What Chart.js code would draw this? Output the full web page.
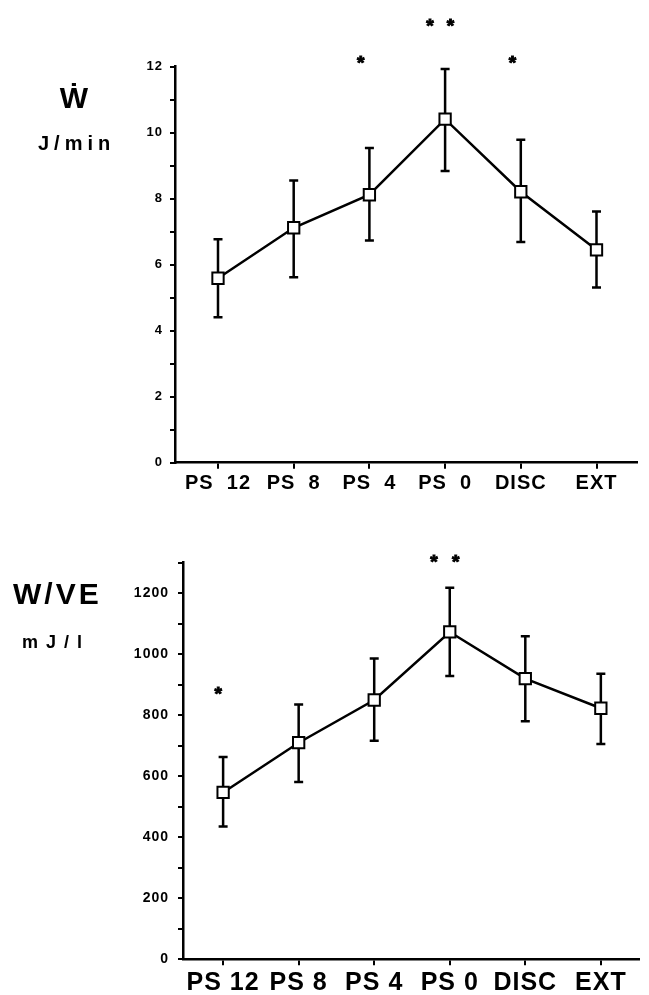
<!DOCTYPE html>
<html>
<head>
<meta charset="utf-8">
<script src="https://cdn.jsdelivr.net/npm/chart.js@4"></script>
<style>
    html, body { margin: 0; padding: 0; background: #fff; }
    #page { position: relative; width: 649px; height: 995px; overflow: hidden;
            font-family: "Liberation Sans", Arial, sans-serif; font-weight: bold; color: #000; }
    .box { position: absolute; left: 0; width: 649px; }
    .lbl { position: absolute; line-height: 1; white-space: nowrap; }
</style>
</head>
<body>
<div id="page">
    <div class="box" style="top:0;height:500px"><canvas id="workChart"></canvas></div>
    <div class="box" style="top:500px;height:495px"><canvas id="veChart"></canvas></div>
    <div class="lbl" style="left:44px;width:60px;text-align:center;top:83px;font-size:30px">Ẇ</div>
    <div class="lbl" style="left:38px;top:133px;font-size:20px;letter-spacing:5px">J/min</div>
    <div class="lbl" style="left:13px;top:579px;font-size:30px;letter-spacing:3px">W/VE</div>
    <div class="lbl" style="left:22px;top:633px;font-size:18px;letter-spacing:8px">mJ/l</div>
</div>
<script>
// top panel: work rate (J/min)
const workLabels = ["PS  12", "PS  8", "PS  4", "PS  0", "DISC", "EXT"];
const workMean = [5.59, 7.12, 8.12, 10.41, 8.21, 6.45];
const workHigh = [6.77, 8.55, 9.54, 11.93, 9.79, 7.61];
const workLow = [4.41, 5.62, 6.73, 8.84, 6.69, 5.31];
const workTicks = [0, 2, 4, 6, 8, 10, 12];
const workStarX = [1.885, 2.80, 3.07, 3.89];
const workStarY = [12.25, 13.38, 13.38, 12.25];

// bottom panel: work per litre ventilation (mJ/l)
const veLabels = ["PS 12", "PS 8", "PS 4", "PS 0", "DISC", "EXT"];
const veMean = [547, 710, 850, 1073, 920, 823];
const veHigh = [663, 835, 986, 1218, 1059, 936];
const veLow = [435, 581, 716, 929, 780, 706];
const veTicks = [0, 200, 400, 600, 800, 1000, 1200];
const veStarX = [-0.065, 2.79, 3.08];
const veStarY = [885, 1318, 1318];

const FONT = "'Liberation Sans', Arial, sans-serif";

const spacingPlugin = {
    id: "spacing",
    beforeDraw(chart, args, opts) {
        chart.ctx.letterSpacing = opts.px || "0px";
    }
};

const errorBarPlugin = {
    id: "errorBars",
    beforeDatasetsDraw(chart, args, opts) {
        const ctx = chart.ctx, xs = chart.scales.x, ys = chart.scales.y;
        ctx.save();
        ctx.strokeStyle = "#000";
        ctx.lineWidth = 2.5;
        opts.low.forEach((lo, i) => {
            const x = xs.getPixelForValue(i);
            const yLo = ys.getPixelForValue(lo);
            const yHi = ys.getPixelForValue(opts.high[i]);
            ctx.beginPath();
            ctx.moveTo(x, yLo); ctx.lineTo(x, yHi);
            ctx.moveTo(x - 4.5, yLo); ctx.lineTo(x + 4.5, yLo);
            ctx.moveTo(x - 4.5, yHi); ctx.lineTo(x + 4.5, yHi);
            ctx.stroke();
        });
        ctx.restore();
    }
};

const starPlugin = {
    id: "stars",
    afterDraw(chart, args, opts) {
        const ctx = chart.ctx, xs = chart.scales.x, ys = chart.scales.y;
        ctx.save();
        ctx.fillStyle = "#000";
        ctx.strokeStyle = "#000";
        ctx.lineWidth = 1;
        ctx.letterSpacing = "0px";
        ctx.font = "bold 19px " + FONT;
        ctx.textAlign = "center";
        ctx.textBaseline = "alphabetic";
        opts.x.forEach((sx, i) => {
            const px = xs.getPixelForValue(sx);
            const py = ys.getPixelForValue(opts.y[i]) + 11;
            ctx.fillText("*", px, py);
            ctx.strokeText("*", px, py);
        });
        ctx.restore();
    }
};

function makeChart(canvasId, o) {
    const ctx = document.getElementById(canvasId).getContext("2d");
    return new Chart(ctx, {
        type: "line",
        data: {
            datasets: [{
                data: o.mean.map((v, i) => ({ x: i, y: v })),
                borderColor: "#000",
                borderWidth: 2.5,
                tension: 0,
                pointStyle: "rect",
                pointRadius: 8,
                pointBorderWidth: 2,
                pointBackgroundColor: "#fff",
                pointBorderColor: "#000"
            }]
        },
        options: {
            responsive: true,
            maintainAspectRatio: false,
            animation: false,
            layout: { padding: o.padding },
            plugins: {
                legend: { display: false },
                tooltip: { enabled: false },
                spacing: { px: "1px" },
                errorBars: { low: o.low, high: o.high },
                stars: { x: o.starX, y: o.starY }
            },
            scales: {
                x: {
                    type: "linear",
                    min: o.xMin,
                    max: o.xMax,
                    afterBuildTicks(scale) { scale.ticks = o.labels.map((c, i) => ({ value: i })); },
                    afterFit(scale) { scale.height = o.xHeight; },
                    border: { color: "#000", width: 2.5 },
                    grid: { drawOnChartArea: false, color: "#000", lineWidth: 2, tickLength: 6 },
                    ticks: {
                        autoSkip: false,
                        maxRotation: 0,
                        color: "#000",
                        padding: 3,
                        font: { family: FONT, size: o.xFont, weight: "bold" },
                        callback: (v) => o.labels[v]
                    }
                },
                y: {
                    min: 0,
                    max: o.yMax,
                    afterFit(scale) { scale.width = o.yWidth; },
                    border: { color: "#000", width: 2.5 },
                    grid: { drawOnChartArea: false, color: "#000", lineWidth: 2, tickLength: 5 },
                    ticks: {
                        autoSkip: false,
                        stepSize: o.yStep,
                        color: "#000",
                        padding: o.yPad,
                        font: { family: FONT, size: o.yFont, weight: "bold" },
                        callback: (v) => o.yTicks.includes(v) ? v : ""
                    }
                }
            }
        },
        plugins: [spacingPlugin, errorBarPlugin, starPlugin]
    });
}

makeChart("workChart", {
    labels: workLabels, mean: workMean, high: workHigh, low: workLow,
    starX: workStarX, starY: workStarY, yTicks: workTicks,
    yMax: 12, yStep: 1, xMin: -0.568, xMax: 5.535,
    padding: { top: 66.7, right: 12, left: 0, bottom: 0 },
    yWidth: 175, xHeight: 37.3, xFont: 20, yFont: 13, yPad: 7
});

makeChart("veChart", {
    labels: veLabels, mean: veMean, high: veHigh, low: veLow,
    starX: veStarX, starY: veStarY, yTicks: veTicks,
    yMax: 1300, yStep: 100, xMin: -0.531, xMax: 5.505,
    padding: { top: 62.7, right: 0, left: 0, bottom: 0 },
    yWidth: 183, xHeight: 35.7, xFont: 25, yFont: 14, yPad: 9
});
</script>
</body>
</html>
